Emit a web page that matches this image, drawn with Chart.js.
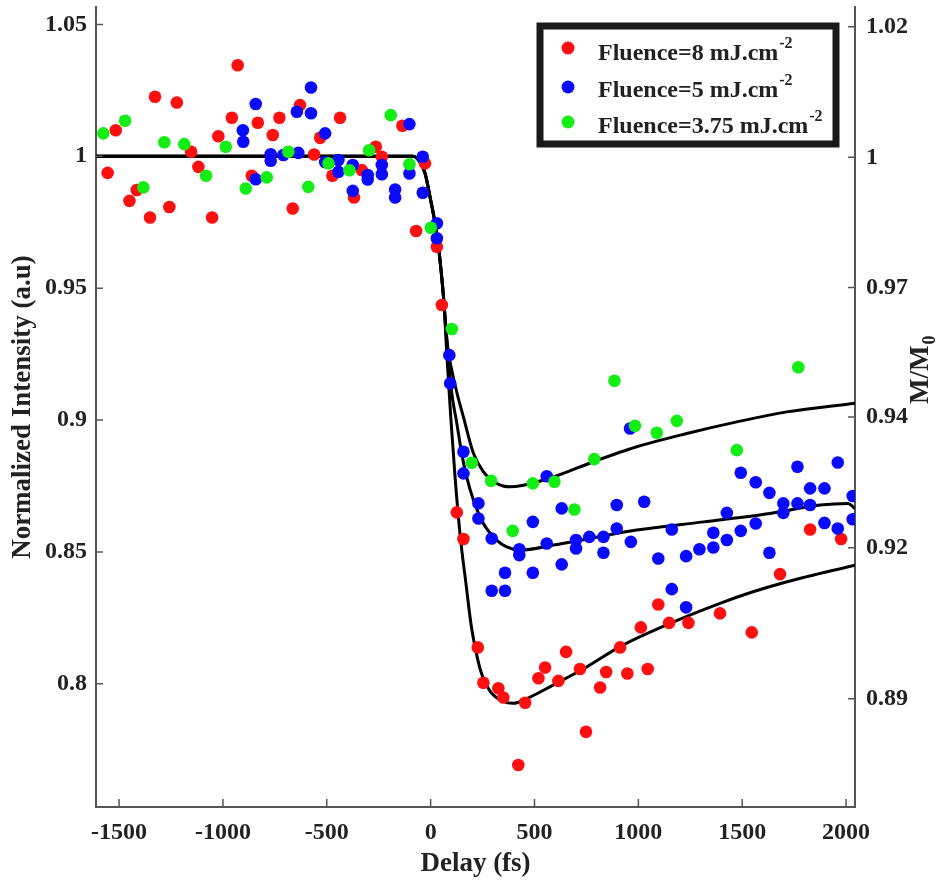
<!DOCTYPE html>
<html>
<head>
<meta charset="utf-8">
<script src="https://cdn.jsdelivr.net/npm/chart.js@4.4.1/dist/chart.umd.min.js"></script>
<style>
html,body{margin:0;padding:0;background:#fff}
#wrap{width:941px;height:882px}
</style>
</head>
<body>
<div id="wrap"><canvas id="chart" width="941" height="882"></canvas></div>
<script>
// measured points, delay in fs / normalized intensity
const redDelay = [-1555,-1516,-1450,-1415,-1351,-1327,-1258,-1222,-1153,-1118,-1052,-1022,-957,-929,-861,-832,-760,-728,-664,-629,-561,-532,-473,-436,-369,-332,-264,-235,-136,-27,-70,30,54,126,158,227,254,326,350,422,455,519,551,615,652,719,748,816,845,912,947,1012,1045,1096,1148,1241,1393,1546,1682,1827,1976];
const redInt = [0.9937,1.0099,0.9831,0.9872,0.9768,1.0226,0.9808,1.0204,1.0017,0.9960,0.9768,1.0076,1.0146,1.0345,0.9926,1.0127,1.0081,1.0146,0.9802,1.0194,1.0007,1.0070,0.9926,1.0146,0.9844,0.9948,1.0036,0.9998,1.0116,0.9973,0.9717,0.9657,0.9436,0.8650,0.8549,0.8138,0.8004,0.7983,0.7948,0.7692,0.7928,0.8021,0.8062,0.8011,0.8121,0.8056,0.7818,0.7986,0.8045,0.8138,0.8039,0.8214,0.8056,0.8301,0.8231,0.8231,0.8267,0.8195,0.8416,0.8585,0.8549];

const blueDelay = [-904,-902,-842,-842,-770,-770,-709,-644,-637,-576,-576,-508,-508,-444,-444,-375,-375,-303,-303,-235,-235,-171,-171,-102,-102,-38,-38,30,30,90,94,158,158,230,230,294,294,358,358,427,427,492,492,559,559,631,631,700,700,764,832,832,896,896,964,960,1028,1096,1161,1161,1230,1230,1294,1361,1361,1426,1426,1493,1493,1565,1565,1631,1631,1698,1698,1766,1766,1827,1827,1896,1896,1960,1960,2032,2032];
const blueInt = [1.0099,1.0055,1.0198,0.9913,1.0008,0.9983,1.0005,1.0169,1.0013,1.0261,1.0163,1.0087,0.9978,0.9986,0.9941,0.9967,0.9869,0.9929,0.9912,0.9967,0.9932,0.9874,0.9844,1.0122,0.9935,0.9998,0.9862,0.9746,0.9689,0.9246,0.9139,0.8880,0.8798,0.8684,0.8627,0.8551,0.8353,0.8421,0.8353,0.8510,0.8488,0.8614,0.8421,0.8787,0.8532,0.8665,0.8453,0.8545,0.8513,0.8557,0.8557,0.8497,0.8678,0.8589,0.8538,0.8968,0.8690,0.8475,0.8585,0.8359,0.8484,0.8290,0.8510,0.8517,0.8573,0.8648,0.8545,0.8800,0.8580,0.8764,0.8608,0.8724,0.8497,0.8684,0.8648,0.8823,0.8684,0.8741,0.8678,0.8741,0.8610,0.8839,0.8589,0.8712,0.8624];

const greenDelay = [-1576,-1471,-1383,-1282,-1186,-1081,-986,-890,-789,-685,-589,-492,-391,-296,-192,-102,1,102,198,291,395,492,596,692,788,885,984,1089,1185,1474,1770];
const greenInt = [1.0087,1.0135,0.9882,1.0053,1.0046,0.9926,1.0036,0.9878,0.9920,1.0017,0.9884,0.9973,0.9947,1.0023,1.0156,0.9970,0.9729,0.9345,0.8838,0.8770,0.8580,0.8760,0.8766,0.8661,0.8852,0.9149,0.8978,0.8952,0.8997,0.8886,0.9200];

// fitted curves (shared onset, then each branch)
const onsetDelay = [-1611,-85,-51,-27,-3,16,34,50,62];
const onsetVal = [1.0,1.0,0.9978,0.9936,0.9846,0.9770,0.9682,0.9569,0.9467];
const redFitDelay = [79,98,118,142,171,195,219,243,286,349,397,479,589,753,912,1153,1393,1552,1716,2043];
const redFitVal = [0.9235,0.8999,0.8780,0.8564,0.8374,0.8223,0.8120,0.8044,0.7972,0.7933,0.7926,0.7950,0.7995,0.8065,0.8141,0.8229,0.8305,0.8349,0.8387,0.8450];
const blueFitDelay = [85,103,126,151,175,206,254,318,366,430,591,752,992,1313,1634,1875,2010,2043];
const blueFitVal = [0.9239,0.9095,0.8988,0.8867,0.8780,0.8697,0.8608,0.8545,0.8519,0.8507,0.8526,0.8549,0.8583,0.8614,0.8646,0.8678,0.8684,0.8664];
const greenFitDelay = [78,118,158,206,254,318,382,446,591,783,992,1233,1474,1714,2043];
const greenFitVal = [0.9303,0.9132,0.9011,0.8874,0.8804,0.8760,0.8747,0.8753,0.8784,0.8842,0.8899,0.8949,0.8993,0.9031,0.9064];

const xTicks = [-1500,-1000,-500,0,500,1000,1500,2000];
const yTicks = [0.8,0.85,0.9,0.95,1.0,1.05];
const yTickLabels = ["0.8","0.85","0.9","0.95","1","1.05"];
// right axis labels and where they sit on the left scale
const rightTickPos = [0.7943,0.8516,0.9012,0.9503,0.9996,1.0491];
const rightTickLabels = ["0.89","0.92","0.94","0.97","1","1.02"];

const legendNames = ["Fluence=8 mJ.cm","Fluence=5 mJ.cm","Fluence=3.75 mJ.cm"];
const RED = "#ff1010", BLUE = "#0a0aff", GREEN = "#14ee14";

const FONT = "'Liberation Serif','Times New Roman',serif";
const AXIS = "#555";
const INK = "#222";

function pts(xs, ys){
    return xs.map((x,i)=>({x:x, y:ys[i]}));
}

function dots(color, xs, ys, order){
    return {
        data: pts(xs, ys),
        backgroundColor: color,
        borderWidth: 0,
        pointRadius: 6.3,
        pointHoverRadius: 6.3,
        order: order
    };
}

function fit(xs, ys, order){
    return {
        data: pts(onsetDelay.concat(xs), onsetVal.concat(ys)),
        showLine: true,
        borderColor: "#000",
        borderWidth: 3,
        pointRadius: 0,
        cubicInterpolationMode: "monotone",
        order: order
    };
}

function noPad(sc){
    sc.paddingTop = 0;
    sc.paddingBottom = 0;
    sc.paddingLeft = 0;
    sc.paddingRight = 0;
}

const extras = {
    id: "extras",
    afterDraw(chart){
        const ctx = chart.ctx;
        const a = chart.chartArea;
        const s = chart.scales;
        ctx.save();

        // inward tick marks
        ctx.strokeStyle = AXIS;
        ctx.lineWidth = 1.5;
        ctx.beginPath();
        xTicks.forEach(v=>{
            let px = s.x.getPixelForValue(v);
            ctx.moveTo(px, a.bottom); ctx.lineTo(px, a.bottom-8);
        });
        yTicks.forEach(v=>{
            let py = s.y.getPixelForValue(v);
            ctx.moveTo(a.left, py); ctx.lineTo(a.left+7, py);
        });
        rightTickPos.forEach(v=>{
            let py = s.y.getPixelForValue(v);
            ctx.moveTo(a.right, py); ctx.lineTo(a.right-7, py);
        });
        ctx.stroke();

        // right axis title M/M0
        ctx.save();
        ctx.translate(928, 404);
        ctx.rotate(-Math.PI/2);
        ctx.fillStyle = INK;
        ctx.textBaseline = "alphabetic";
        ctx.font = "bold 27px " + FONT;
        ctx.fillText("M/M", 0, 0);
        let w = ctx.measureText("M/M").width;
        ctx.font = "bold 18px " + FONT;
        ctx.fillText("0", w+1, 7);
        ctx.restore();

        // legend box
        ctx.fillStyle = "#fff";
        ctx.fillRect(540, 26, 296, 118);
        ctx.strokeStyle = "#1a1a1a";
        ctx.lineWidth = 7;
        ctx.strokeRect(540, 26, 296, 118);

        const colors = [RED, BLUE, GREEN];
        const dotY = [48, 87, 122];
        const baseY = [60, 97, 133];
        legendNames.forEach((name,i)=>{
            ctx.fillStyle = colors[i];
            ctx.beginPath();
            ctx.arc(568, dotY[i], 6.5, 0, Math.PI*2);
            ctx.fill();
            ctx.fillStyle = INK;
            ctx.font = "bold 24px " + FONT;
            ctx.fillText(name, 598, baseY[i]);
            let tw = ctx.measureText(name).width;
            ctx.font = "bold 16px " + FONT;
            ctx.fillText("-2", 598+tw+1, baseY[i]-12);
        });

        ctx.restore();
    }
};

const tickFont = {family: FONT, size: 24, weight: "bold"};
const titleFont = {family: FONT, size: 27, weight: "bold"};

new Chart(document.getElementById("chart"), {
    type: "scatter",
    data: {
        datasets: [
            dots(GREEN, greenDelay, greenInt, 0),
            dots(BLUE, blueDelay, blueInt, 1),
            dots(RED, redDelay, redInt, 2),
            fit(greenFitDelay, greenFitVal, 3),
            fit(blueFitDelay, blueFitVal, 4),
            fit(redFitDelay, redFitVal, 5)
        ]
    },
    options: {
        responsive: false,
        devicePixelRatio: 1,
        animation: false,
        layout: {padding: {top: 7, left: 0, right: 0, bottom: 0}},
        plugins: {legend: {display: false}, tooltip: {enabled: false}},
        scales: {
            x: {
                type: "linear",
                min: -1611,
                max: 2043,
                afterFit(sc){ sc.height = 75; noPad(sc); },
                afterBuildTicks(sc){ sc.ticks = xTicks.map(v=>({value: v})); },
                grid: {display: false, drawTicks: false},
                border: {display: true, color: AXIS, width: 2},
                ticks: {font: tickFont, color: INK, padding: 11, maxRotation: 0,
                        callback: v => String(v)},
                title: {display: true, text: "Delay (fs)", font: titleFont, color: INK,
                        padding: {top: 0, bottom: 2}}
            },
            y: {
                type: "linear",
                position: "left",
                min: 0.7533,
                max: 1.0566,
                afterFit(sc){ sc.width = 96; noPad(sc); },
                afterBuildTicks(sc){ sc.ticks = yTicks.map(v=>({value: v})); },
                grid: {display: false, drawTicks: false},
                border: {display: true, color: AXIS, width: 2},
                ticks: {font: tickFont, color: INK, padding: 9,
                        callback: (v, i) => yTickLabels[i]},
                title: {display: true, text: "Normalized Intensity (a.u)", font: titleFont, color: INK,
                        padding: {top: 7, bottom: 0}}
            },
            y2: {
                type: "linear",
                position: "right",
                min: 0.7533,
                max: 1.0566,
                afterFit(sc){ sc.width = 86; noPad(sc); },
                afterBuildTicks(sc){ sc.ticks = rightTickPos.map(v=>({value: v})); },
                grid: {display: false, drawTicks: false},
                border: {display: true, color: AXIS, width: 2},
                ticks: {font: tickFont, color: INK, padding: 11,
                        callback: (v, i) => rightTickLabels[i]}
            }
        }
    },
    plugins: [extras]
});
</script>
</body>
</html>
